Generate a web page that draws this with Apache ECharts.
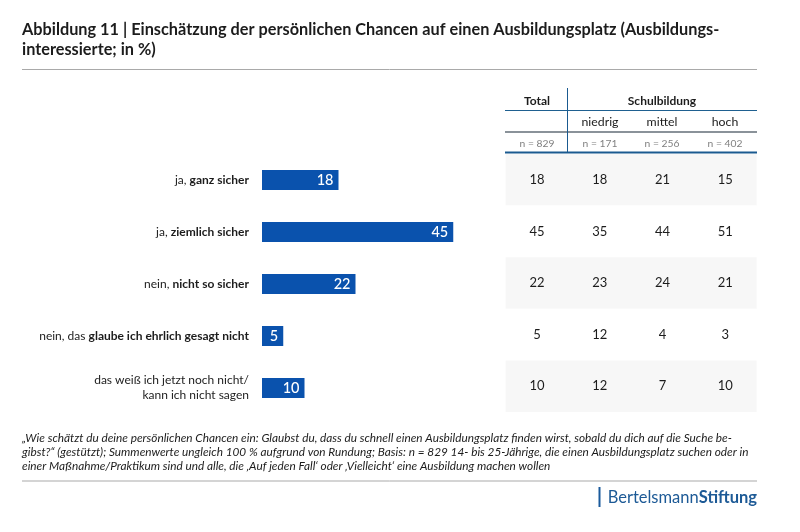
<!DOCTYPE html>
<html><head><meta charset="utf-8">
<style>html,body{margin:0;padding:0;background:#fff}#c{width:800px;height:532px}</style>
<script src="https://cdn.jsdelivr.net/npm/echarts@6/dist/echarts.min.js"></script>
</head><body><div id="c"></div>
<script>
const catRegular = ['ja, ', 'ja, ', 'nein, ', 'nein, das ', 'das weiß ich jetzt noch nicht/\nkann ich nicht sagen'];
const catBold = ['ganz sicher', 'ziemlich sicher', 'nicht so sicher', 'glaube ich ehrlich gesagt nicht', ''];
const barValues = [18, 45, 22, 5, 10];
const columns = ['Total', 'niedrig', 'mittel', 'hoch'];
const sampleSizes = ['n = 829', 'n = 171', 'n = 256', 'n = 402'];
const totalCol = [18, 45, 22, 5, 10];
const niedrigCol = [18, 35, 23, 12, 12];
const mittelCol = [21, 44, 24, 4, 7];
const hochCol = [15, 51, 21, 3, 10];
const titleText = 'Abbildung 11 | Einschätzung der persönlichen Chancen auf einen Ausbildungsplatz (Ausbildungs-\ninteressierte; in %)';
const noteLines = [
 '„Wie schätzt du deine persönlichen Chancen ein: Glaubst du, dass du schnell einen Ausbildungsplatz finden wirst, sobald du dich auf die Suche be-',
 'gibst?“ (gestützt); Summenwerte ungleich 100\u202f% aufgrund von Rundung; Basis: n = 829 14- bis 25-Jährige, die einen Ausbildungsplatz suchen oder in',
 'einer Maßnahme/Praktikum sind und alle, die ‚Auf jeden Fall‘ oder ‚Vielleicht‘ eine Ausbildung machen wollen'
];
const FONT = 'Lato';
const categories = catRegular.map((r, i) => r + '|' + catBold[i]);
const tableCols = [totalCol, niedrigCol, mittelCol, hochCol];
const tableData = [];
tableCols.forEach((col, c) => col.forEach((v, r) => tableData.push([c, r, v])));
const colX = [537, 600, 662, 725];
const line = (x1, y1, x2, y2, color, w) => ({type:'line', silent:true, shape:{x1, y1, x2, y2}, style:{stroke:color, lineWidth:w}});
const txt = (x, y, text, o) => ({type:'text', silent:true, x, y, style:Object.assign({text, fontFamily:FONT, fontSize:12, fill:'#222', align:'center', verticalAlign:'middle'}, o||{})});

const chart = echarts.init(document.getElementById('c'), null, {renderer:'canvas'});
chart.setOption({
  animation:false,
  backgroundColor:'#fff',
  title:{text:titleText, left:22, top:20, padding:0, textStyle:{fontFamily:FONT, fontSize:16.3, fontWeight:'bold', color:'#1c1c1c', lineHeight:20}},
  grid:[
    {left:262, top:154, width:212.5, height:260},
    {left:505.6, top:154, width:251, height:258}
  ],
  xAxis:[
    {gridIndex:0, type:'value', min:0, max:50, show:false},
    {gridIndex:1, type:'category', data:columns, show:false}
  ],
  yAxis:[
    {gridIndex:0, type:'category', inverse:true, data:categories,
     axisLine:{show:false}, axisTick:{show:false},
     axisLabel:{margin:13, align:'right', lineHeight:15,
       formatter:v=>{
         const [r,b]=v.split('|');
         const rr=r.split('\n').map(s=>'{r|'+s+'}').join('\n');
         return b?rr+'{b|'+b+'}':rr;
       },
       rich:{r:{fontFamily:FONT,fontSize:12,color:'#1c1c1c',lineHeight:15},b:{fontFamily:FONT,fontSize:12,fontWeight:'bold',color:'#1c1c1c',lineHeight:15}}
     }},
    {gridIndex:1, type:'category', inverse:true, data:categories, axisLine:{show:false}, axisTick:{show:false}, axisLabel:{show:false},
     splitLine:{show:false}, splitArea:{show:true, areaStyle:{color:['#f7f7f7','#ffffff']}}}
  ],
  series:[
    {type:'bar', xAxisIndex:0, yAxisIndex:0, data:barValues, barWidth:20,
     itemStyle:{color:'#0a52ad'},
     label:{show:true, position:'insideRight', distance:5, color:'#fff', fontFamily:FONT, fontSize:14.5, fontWeight:500}},
    {type:'scatter', xAxisIndex:1, yAxisIndex:1, data:tableData, symbolSize:0, silent:true,
     itemStyle:{opacity:1},
     label:{show:true, position:'inside', formatter:p=>String(p.value[2]), color:'#1c1c1c', opacity:1, fontFamily:FONT, fontSize:13}}
  ],
  graphic:[
    line(22,69.5,757,69.5,'#a9a9a9',1),
    line(505,110.5,757,110.5,'#1f6090',1),
    line(505,132,757,132,'#8a9299',2),
    line(505,152.5,757,152.5,'#1a5a90',2),
    line(567.5,88,567.5,152,'#1a5a90',1),
    line(22,481,757,481,'#a9a9a9',1),
    line(599.5,487,599.5,507,'#1a5a9c',2),
    txt(colX[0],101,columns[0],{fontWeight:'bold',fontSize:12,fill:'#1c1c1c'}),
    txt(662,101,'Schulbildung',{fontWeight:'bold',fontSize:12,fill:'#1c1c1c'}),
    ...columns.slice(1).map((c,i)=>txt(colX[i+1],122,c,{fontSize:12.3,fill:'#1c1c1c'})),
    ...sampleSizes.map((c,i)=>txt(colX[i],143.5,c,{fontSize:10.3,fill:'#808080'})),
    ...noteLines.map((t,i)=>txt(22,438+14*i,t,{align:'left',fontStyle:'italic',fontSize:11.8,fill:'#1c1c1c'})),
    {type:'text', silent:true, x:757, y:497.5, style:{
      text:'{a|Bertelsmann}{b|Stiftung}', align:'right', verticalAlign:'middle',
      rich:{a:{fontFamily:FONT,fontSize:16.5,fill:'#1d5a96'},b:{fontFamily:FONT,fontSize:16.5,fontWeight:'bold',fill:'#1d5a96'}}
    }}
  ]
});
</script></body></html>
